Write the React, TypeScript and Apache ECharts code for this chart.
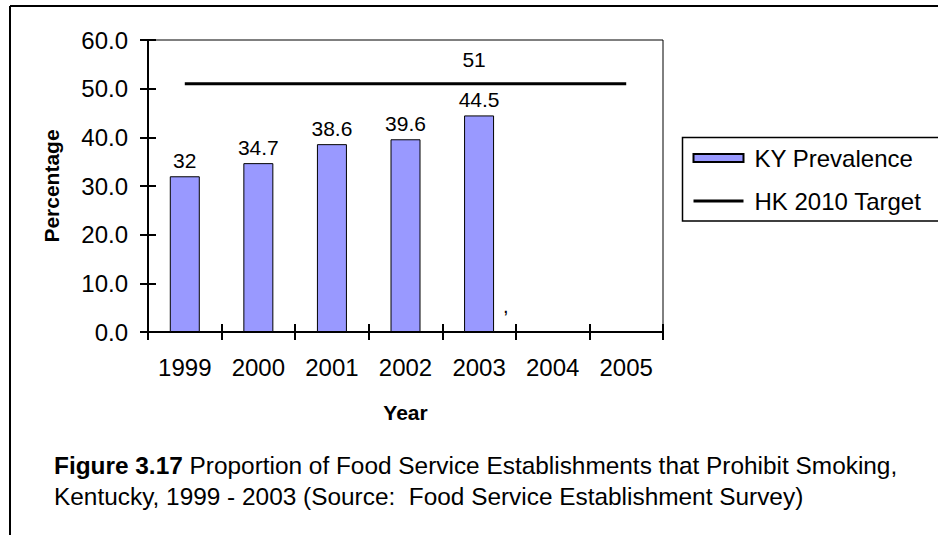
import React, { useEffect, useRef } from "react";
import * as echarts from "echarts";

const years = ["1999", "2000", "2001", "2002", "2003", "2004", "2005"];
const kyPrevalence: (number | null)[] = [32, 34.7, 38.6, 39.6, 44.5, null, null];
const hkTarget = [51, 51, 51, 51, 51, 51, 51];
const targetLabelIndex = 4;
const seriesNames = ["KY Prevalence", "HK 2010 Target"];
const yMin = 0;
const yMax = 60;
const yStep = 10;
const captionBold = "Figure 3.17";
const captionRest1 = " Proportion of Food Service Establishments that Prohibit Smoking,";
const captionLine2 = "Kentucky, 1999 - 2003 (Source:  Food Service Establishment Survey)";

const FONT = '"Liberation Sans", Arial, Helvetica, sans-serif';

export default function App() {
  const ref = useRef<HTMLDivElement>(null);
  useEffect(() => {
    if (!ref.current) return;
    const chart = echarts.init(ref.current, undefined, { renderer: "svg" });
    const gridLeft = 148;
    const gridTop = 40;
    const gridW = 515;
    const gridH = 292;
    const tickStyle = { color: "#000", width: 2 };
    const option: any = {
      animation: false,
      backgroundColor: "#fff",
      textStyle: { fontFamily: FONT, color: "#000" },
      grid: {
        left: gridLeft,
        top: gridTop,
        width: gridW,
        height: gridH,
        show: true,
        borderColor: "#000",
        borderWidth: 1,
        backgroundColor: "transparent",
      },
      legend: {
        left: 692,
        top: 146,
        orient: "vertical",
        itemWidth: 50,
        itemHeight: 8,
        itemGap: 19,
        padding: 0,
        textStyle: { fontSize: 24, color: "#000", fontFamily: FONT, padding: [0, 0, 0, 6] },
        data: [
          { name: seriesNames[0], icon: "rect" },
          {
            name: seriesNames[1],
            itemStyle: { color: "transparent", borderWidth: 0, opacity: 0 },
            lineStyle: { color: "#000", width: 3, opacity: 1 },
          },
        ],
      },
      xAxis: [
        {
          type: "category",
          data: years,
          position: "bottom",
          axisLine: { show: true, lineStyle: tickStyle },
          axisTick: { show: true, length: 8, lineStyle: tickStyle },
          axisLabel: { fontSize: 24, color: "#000", margin: 23, fontFamily: FONT },
          splitLine: { show: false },
          name: "Year",
          nameLocation: "middle",
          nameGap: 70,
          nameTextStyle: { fontSize: 21, fontWeight: "bold", color: "#000", fontFamily: FONT },
        },
        {
          type: "category",
          data: years,
          position: "top",
          offset: -gridH,
          axisLine: { show: false },
          axisTick: { show: true, inside: false, length: 8, lineStyle: tickStyle },
          axisLabel: { show: false },
          splitLine: { show: false },
        },
      ],
      yAxis: [
        {
          type: "value",
          min: yMin,
          max: yMax,
          interval: yStep,
          position: "left",
          axisLine: { show: true, lineStyle: tickStyle },
          axisTick: { show: true, inside: false, length: 8, lineStyle: tickStyle },
          axisLabel: {
            fontSize: 24,
            color: "#000",
            margin: 20,
            fontFamily: FONT,
            formatter: (v: number) => v.toFixed(1),
          },
          splitLine: { show: false },
          name: "Percentage",
          nameLocation: "middle",
          nameRotate: 90,
          nameGap: 86,
          nameTextStyle: { fontSize: 21, fontWeight: "bold", color: "#000", fontFamily: FONT },
        },
        {
          type: "value",
          min: yMin,
          max: yMax,
          interval: yStep,
          position: "right",
          offset: -gridW,
          axisLine: { show: false },
          axisTick: { show: true, inside: false, length: 8, lineStyle: tickStyle },
          axisLabel: { show: false },
          splitLine: { show: false },
        },
      ],
      series: [
        {
          type: "bar",
          name: seriesNames[0],
          data: kyPrevalence,
          barWidth: 30,
          xAxisIndex: 0,
          yAxisIndex: 0,
          itemStyle: { color: "#9999FF", borderColor: "#000", borderWidth: 1 },
          label: {
            show: true,
            position: "top",
            distance: 5,
            fontSize: 21,
            color: "#000",
            fontFamily: FONT,
          },
        },
        {
          type: "line",
          name: seriesNames[1],
          xAxisIndex: 0,
          yAxisIndex: 0,
          data: hkTarget.map((v, i) =>
            i === targetLabelIndex
              ? {
                  value: v,
                  symbol: "circle",
                  symbolSize: 0,
                  label: {
                    show: true,
                    position: "top",
                    distance: 14,
                    offset: [-5, 0],
                    fontSize: 21,
                    color: "#000",
                    fontFamily: FONT,
                  },
                }
              : v
          ),
          symbol: "none",
          lineStyle: { color: "#000", width: 3 },
          itemStyle: { color: "#000" },
          z: 3,
        },
      ],
      graphic: [
        {
          type: "line",
          shape: { x1: 10, y1: 6, x2: 940, y2: 6 },
          style: { stroke: "#000", lineWidth: 2 },
          silent: true,
        },
        {
          type: "line",
          shape: { x1: 10, y1: 6, x2: 10, y2: 540 },
          style: { stroke: "#000", lineWidth: 2 },
          silent: true,
        },
        {
          type: "rect",
          shape: { x: 682.5, y: 137.5, width: 400, height: 83.5 },
          style: { fill: "none", stroke: "#000", lineWidth: 1.5 },
          silent: true,
          z: -1,
        },
        {
          type: "text",
          x: 503,
          y: 296,
          style: { text: ",", fontSize: 20, fill: "#000", fontFamily: FONT },
          silent: true,
        },
        {
          type: "text",
          x: 54,
          y: 450,
          style: {
            text: "{b|" + captionBold + "}" + captionRest1 + "\n" + captionLine2,
            fontSize: 24.4,
            lineHeight: 31,
            fill: "#000",
            fontFamily: FONT,
            verticalAlign: "top",
            rich: {
              b: { fontWeight: "bold", fontSize: 24.4, fontFamily: FONT, fill: "#000", lineHeight: 31 },
            },
          },
          silent: true,
        },
      ],
    };
    chart.setOption(option);
    return () => chart.dispose();
  }, []);
  return (
    <div
      ref={ref}
      style={{ position: "fixed", left: 0, top: 0, width: 938, height: 535, background: "#fff" }}
    />
  );
}
